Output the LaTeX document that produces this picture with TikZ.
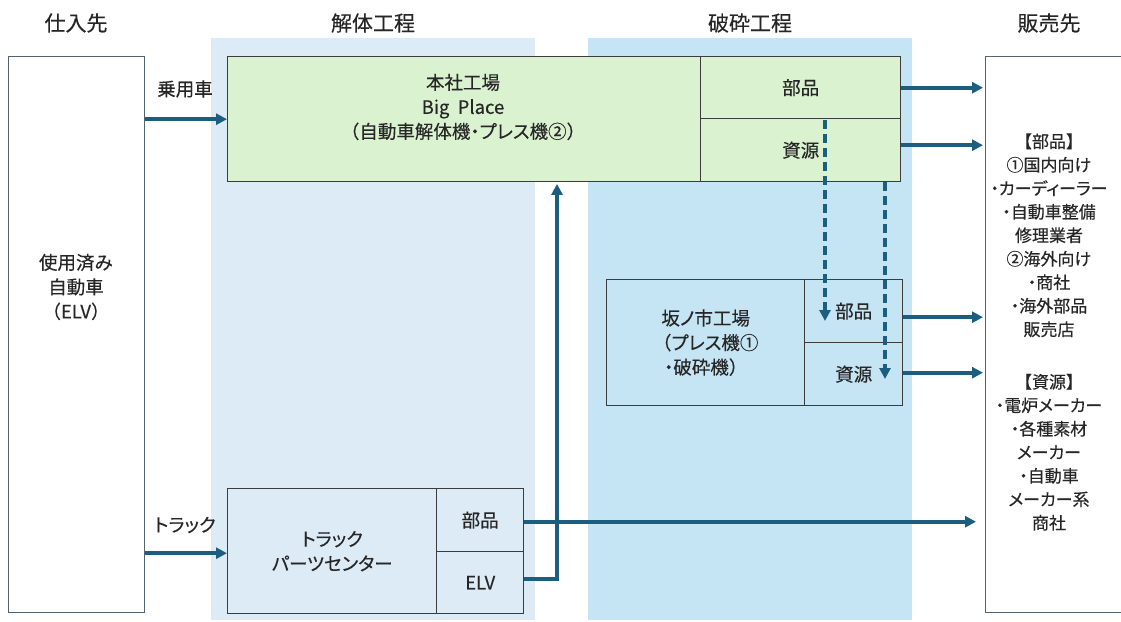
\documentclass[tikz,border=0pt]{standalone}
\usepackage{fontspec}
\setmainfont[FakeBold=0.3]{Noto Sans CJK JP}
\newfontfamily\pk[RawFeature=+palt,FakeBold=0.3]{Noto Sans CJK JP}
\usetikzlibrary{arrows.meta}
\definecolor{bandA}{RGB}{221,235,247}
\definecolor{bandB}{RGB}{197,228,244}
\definecolor{greenfill}{RGB}{218,242,208}
\definecolor{arrowc}{RGB}{28,94,128}
\definecolor{edgec}{RGB}{60,60,60}
\definecolor{outerc}{RGB}{84,98,110}
\definecolor{txt}{RGB}{38,38,38}
\begin{document}
\begin{tikzpicture}[x=1pt,y=-1pt,
  txtstyle/.style={font=\fontsize{18.5}{24.5}\selectfont, text=txt, align=center},
  smalltxt/.style={font=\fontsize{17}{23.5}\selectfont, text=txt, align=center},
  hdr/.style={font=\fontsize{21}{25}\selectfont, text=txt},
  cell/.style={draw=edgec, line width=1.4pt, inner sep=0pt, anchor=north west, txtstyle},
  bandbox/.style={inner sep=0pt, anchor=north west},
  arr/.style={draw=arrowc, line width=3.6pt, -{Triangle[length=11pt,width=11pt]}},
  darr/.style={arr, dash pattern=on 9pt off 5pt},
]
\useasboundingbox (0,0) rectangle (1121,621);
% background bands
\node[bandbox, fill=bandA, minimum width=324pt, minimum height=582pt] (bandA) at (211,38) {};
\node[bandbox, fill=bandB, minimum width=324pt, minimum height=582pt] (bandB) at (588,38) {};
% headers
\node[hdr] (h1) at (76,23) {仕入先};
\node[hdr] (h2) at (373,23) {解体工程};
\node[hdr] (h3) at (750,23) {破砕工程};
\node[hdr] (h4) at (1049,23) {販売先};
% source box
\node[cell, draw=outerc, minimum width=136pt, minimum height=556pt] (src) at (8,56) {};
\node[txtstyle] (srctext) at (76,287) {使用済み\\自動車\\（ELV）};
% destination box
\node[cell, draw=outerc, minimum width=150pt, minimum height=556pt] (dst) at (985,56) {};
\node[smalltxt] (dsttext) at (1049,332) {【部品】\\①国内向け\\{\pk ・カーディーラー}\\{\pk ・}自動車整備\\修理業者\\②海外向け\\{\pk ・}商社\\{\pk ・}海外部品\\販売店\\[29pt]【資源】\\{\pk ・}電炉{\pk メーカー}\\{\pk ・}各種素材\\{\pk メーカー}\\{\pk ・}自動車\\{\pk メーカー}系\\商社};
% main factory
\node[cell, fill=greenfill, minimum width=473pt, minimum height=125pt] (gmain) at (227,56) {};
\node[cell, fill=greenfill, minimum width=200pt, minimum height=62pt] (gparts) at (700,56) {部品};
\node[cell, fill=greenfill, minimum width=200pt, minimum height=63pt] (gres) at (700,118) {資源};
\node[txtstyle] (gtext) at (463,107) {本社工場\\Big\ \ Place\\（自動車解体機{\pk ・プレス}機②）};
% sakanoichi factory
\node[cell, fill=bandB, minimum width=198pt, minimum height=126pt] (smain) at (606,279) {坂{\pk ノ}市工場\\（{\pk プレス}機①\\{\pk ・}破砕機）};
\node[cell, fill=bandB, minimum width=98pt, minimum height=63pt] (sparts) at (804,279) {部品};
\node[cell, fill=bandB, minimum width=98pt, minimum height=63pt] (sres) at (804,342) {資源};
% truck parts center
\node[cell, fill=bandA, minimum width=209pt, minimum height=125pt] (tmain) at (227,488) {{\pk トラック}\\{\pk パーツセンター}};
\node[cell, fill=bandA, minimum width=87pt, minimum height=63pt] (tparts) at (436,488) {部品};
\node[cell, fill=bandA, minimum width=87pt, minimum height=62pt] (telv) at (436,551) {ELV};
% labels
\node[txtstyle] (lab1) at (185,89) {乗用車};
\node[txtstyle] (lab2) at (185,525) {{\pk トラック}};
% helper coordinates
\coordinate (g2) at ([yshift=5pt]gres.east);
\coordinate (s1) at ([yshift=-6pt]sparts.east);
\coordinate (s2) at ([yshift=1.5pt]sres.east);
\coordinate (t1) at ([yshift=-1.5pt]tparts.east);
\coordinate (t2) at ([yshift=4pt]telv.east);
\coordinate (tin) at ([yshift=-2pt]tmain.west);
\coordinate (elvx) at (557,0);
\coordinate (d1x) at (825,0);
\coordinate (d1end) at (825,321);
\coordinate (d2x) at (885,0);
\coordinate (d2end) at (885,379);
% arrows
\draw[arr] (src.east |- gmain.west) -- (gmain.west);
\draw[arr] (src.east |- tin) -- (tin);
\draw[arr, shorten >=2pt] (gparts.east) -- (dst.west |- gparts.east);
\draw[arr, shorten >=2pt] (g2) -- (dst.west |- g2);
\draw[arr, shorten >=2pt] (s1) -- (dst.west |- s1);
\draw[arr, shorten >=2pt] (s2) -- (dst.west |- s2);
\draw[arr, shorten >=9pt] (t1) -- (dst.west |- t1);
\draw[arr, shorten >=1.5pt] (t2) -| (gmain.south -| elvx);
\draw[darr] ([yshift=-2pt]gres.north -| d1x) -- (d1end);
\draw[darr] (gres.south -| d2x) -- (d2end);
\end{tikzpicture}
\end{document}
